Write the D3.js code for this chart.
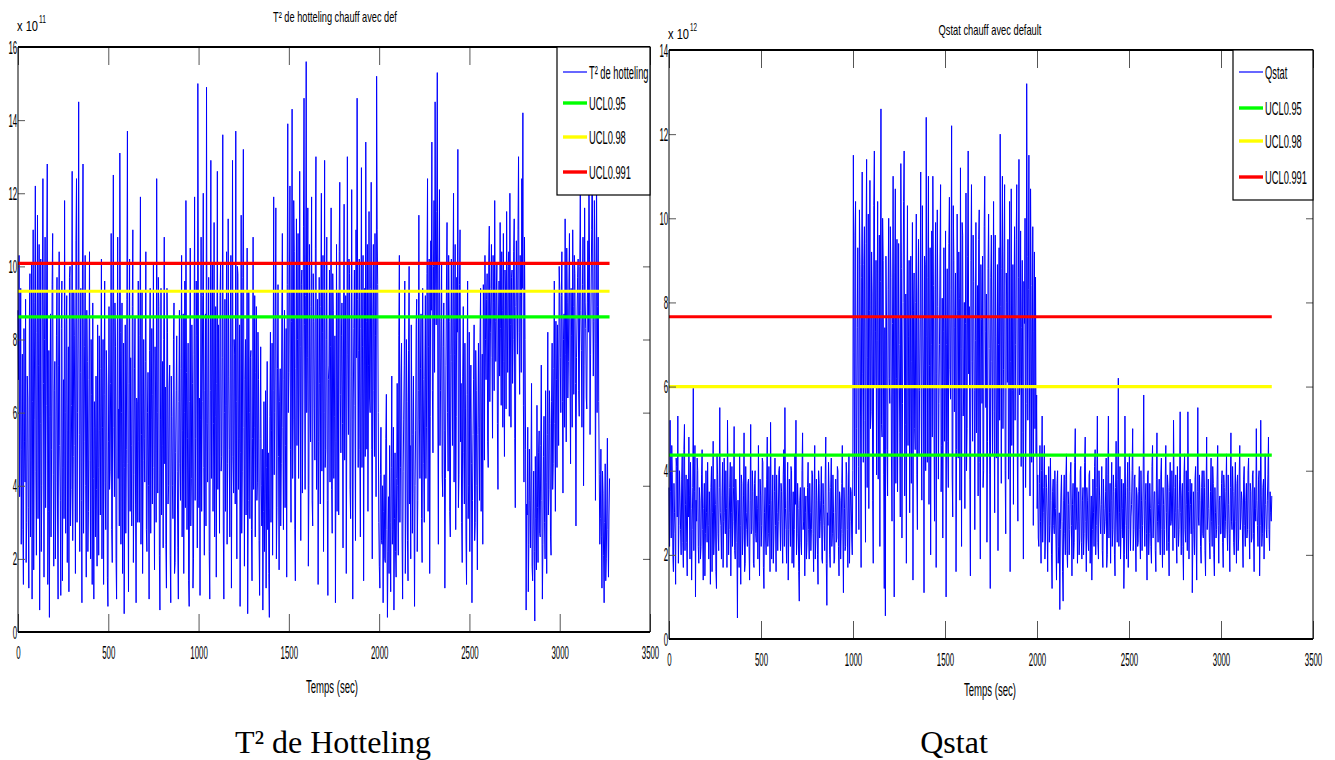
<!DOCTYPE html>
<html>
<head>
<meta charset="utf-8">
<script src="https://cdn.jsdelivr.net/npm/d3@7"></script>
<style>
  html, body { margin: 0; padding: 0; background: #fff; }
  svg { display: block; font-family: "Liberation Sans", Arial, sans-serif; }
</style>
</head>
<body>
<svg id="fig" width="1335" height="760"></svg>
<script>
// ---- data -------------------------------------------------------------
// the statistics are logged every 3 s; each record is split in two
// interleaved arrays: phase A at t = 0, 6, 12, ...  and phase B at t = 3, 9, 15, ...
const sampleStep = 6;

// Hotelling T² statistic, heating process with fault (units of 1e11)
const t2PhaseA = [
  8.8, 10.3, 6.1, 2.4, 7.6, 1.3, 5.2, 9.1, 3.0, 6.4, 1.2, 9.8, 4.7, 0.9, 11.0, 5.8, 12.2, 2.1, 11.4, 7.3, 0.6, 10.2, 4.0, 12.4, 1.5,
  10.8, 6.2, 12.8, 3.3, 0.4, 8.7, 5.0, 10.9, 1.8, 7.4, 4.1, 9.7, 0.9, 10.4, 3.6, 8.3, 1.4, 6.9, 11.8, 2.7, 9.2, 5.5, 1.1, 10.0, 3.9,
  12.6, 4.8, 8.1, 1.6, 12.4, 6.0, 14.5, 2.2, 9.4, 0.8, 12.8, 5.2, 10.3, 1.5, 7.4, 3.3, 10.4, 2.0, 6.5, 9.0, 0.9, 5.6, 7.0, 1.8, 4.5,
  8.1, 3.2, 10.2, 5.6, 1.3, 9.6, 2.8, 6.7, 0.7, 8.9, 4.4, 10.9, 1.9, 12.5, 3.7, 7.8, 0.9, 10.8, 6.1, 13.1, 2.4, 9.0, 4.6, 0.5, 8.4,
  5.0, 13.7, 1.1, 10.2, 7.5, 2.9, 11.0, 4.3, 8.6, 0.8, 6.3, 9.6, 3.0, 11.9, 5.4, 1.6, 8.0, 4.1, 10.4, 2.2, 7.1, 0.9, 9.4, 5.8, 3.5,
  10.1, 1.7, 6.4, 12.4, 3.8, 8.9, 0.6, 9.4, 5.1, 2.3, 10.8, 6.7, 1.2, 8.2, 4.0, 7.3, 0.8, 5.9, 3.1, 9.0, 1.9, 6.6, 4.4, 0.9, 8.8,
  3.6, 10.3, 5.5, 1.6, 9.6, 11.8, 2.8, 7.9, 0.7, 10.5, 4.2, 6.8, 2.0, 11.9, 5.3, 8.1, 15.0, 3.4, 1.0, 10.8, 6.3, 12.0, 2.1, 8.7, 14.9,
  4.1, 9.7, 0.9, 12.9, 7.0, 3.3, 11.2, 5.9, 1.5, 12.6, 8.4, 2.7, 10.1, 4.8, 13.6, 0.9, 9.1, 6.2, 2.4, 11.3, 5.0, 8.6, 1.2, 12.9, 3.8,
  7.6, 13.7, 2.0, 9.8, 5.3, 0.7, 11.4, 4.4, 13.2, 1.8, 8.0, 6.4, 0.5, 9.3, 3.1, 7.7, 1.4, 10.8, 5.6, 2.6, 8.9, 4.1, 6.9, 1.0, 7.8,
  2.9, 0.6, 6.3, 3.8, 1.2, 7.4, 4.9, 0.4, 8.2, 5.5, 2.1, 11.9, 6.0, 11.6, 3.4, 9.5, 1.7, 7.2, 4.6, 10.9, 2.8, 8.8, 5.1, 1.5, 13.9,
  7.1, 12.2, 3.0, 14.3, 5.8, 10.4, 1.4, 11.3, 8.0, 4.2, 12.6, 2.5, 9.9, 6.4, 14.6, 3.9, 15.6, 7.5, 1.8, 10.6, 5.2, 11.9, 2.9, 8.5, 4.7,
  13.0, 6.1, 1.3, 9.7, 3.5, 12.0, 8.2, 2.2, 12.9, 5.0, 10.8, 1.0, 7.3, 4.1, 11.6, 2.7, 8.8, 5.9, 0.8, 10.6, 6.7, 3.2, 12.3, 4.9, 9.0,
  2.3, 11.7, 7.0, 1.6, 13.0, 5.4, 9.8, 3.1, 12.1, 0.9, 8.3, 6.2, 11.0, 14.6, 4.5, 10.2, 2.6, 12.7, 7.8, 1.4, 9.4, 13.4, 5.0, 3.3, 11.5,
  6.0, 12.3, 2.0, 10.6, 4.8, 8.1, 15.2, 9.5, 3.0, 1.2, 5.6, 2.4, 0.8, 4.3, 1.9, 6.5, 0.4, 3.7, 5.1, 1.1, 7.0, 2.8, 0.6, 4.9, 1.5,
  6.8, 2.1, 10.3, 4.5, 7.9, 0.9, 5.8, 9.6, 3.2, 6.3, 1.4, 10.0, 5.1, 8.4, 2.7, 7.0, 0.7, 5.5, 9.1, 3.6, 11.4, 4.2, 8.7, 1.9, 6.9,
  3.0, 9.2, 5.6, 12.4, 7.8, 1.6, 10.7, 13.4, 4.9, 11.8, 14.5, 8.4, 15.3, 2.4, 12.1, 6.6, 10.1, 3.7, 9.0, 1.2, 7.3, 11.2, 4.4, 8.5, 2.6,
  10.2, 5.1, 12.0, 7.6, 2.8, 9.7, 13.2, 4.3, 11.0, 6.8, 1.9, 8.9, 3.5, 6.1, 1.3, 9.6, 4.0, 2.2, 7.3, 0.8, 5.4, 8.4, 3.0, 6.6, 1.7,
  7.9, 3.6, 9.4, 5.8, 2.4, 8.6, 10.3, 6.9, 9.8, 4.5, 11.1, 8.2, 10.6, 5.3, 9.0, 11.8, 7.4, 10.1, 3.9, 9.6, 11.2, 6.2, 8.8, 10.9, 4.8,
  9.3, 11.5, 7.1, 10.4, 12.0, 5.6, 9.9, 8.0, 11.3, 3.4, 10.7, 7.6, 13.0, 6.5, 9.2, 12.4, 14.2, 4.1, 8.0, 0.6, 3.2, 1.1, 5.0, 2.3, 6.8,
  1.4, 4.4, 0.3, 3.1, 6.2, 1.9, 5.5, 2.6, 7.3, 0.9, 4.8, 3.0, 6.6, 1.6, 8.2, 3.9, 5.7, 2.1, 7.9, 4.6, 9.6, 3.3, 6.9, 8.4, 5.1,
  9.4, 6.0, 10.4, 3.8, 8.7, 11.3, 5.2, 9.0, 7.4, 10.9, 4.6, 8.1, 11.0, 6.5, 9.8, 2.9, 8.6, 10.2, 5.9, 12.0, 7.7, 9.5, 4.0, 11.6, 8.3,
  6.1, 10.7, 12.6, 5.4, 9.3, 13.5, 7.0, 11.8, 3.6, 12.9, 8.9, 6.3, 2.4, 5.0, 1.2, 3.8, 0.8, 4.6, 2.0, 5.3, 1.5, 4.2
];
const t2PhaseB = [
  6.9, 3.7, 9.4, 5.0, 2.8, 8.3, 4.1, 1.9, 7.0, 3.4, 8.6, 2.6, 10.1, 6.3, 1.7, 9.0, 4.4, 8.2, 3.1, 10.6, 5.7, 2.2, 9.3, 6.8, 8.0,
  3.4, 9.9, 1.3, 7.7, 5.9, 2.6, 9.5, 4.3, 6.6, 2.0, 8.1, 3.2, 7.3, 5.1, 1.0, 9.6, 4.5, 3.1, 6.0, 8.4, 1.9, 7.8, 9.7, 2.9, 6.2,
  2.5, 9.3, 5.1, 10.7, 3.0, 8.6, 5.4, 7.1, 3.6, 9.9, 2.7, 7.8, 4.0, 8.8, 2.2, 6.9, 4.7, 8.0, 1.3, 4.2, 6.3, 2.6, 3.9, 8.4, 2.1,
  5.5, 7.2, 2.0, 8.0, 6.5, 4.1, 7.7, 1.5, 5.2, 3.9, 6.8, 2.8, 8.6, 5.6, 9.0, 2.0, 6.4, 4.2, 2.9, 8.2, 6.0, 1.6, 7.9, 4.5, 2.7,
  9.1, 4.6, 6.8, 3.3, 5.1, 8.9, 1.9, 7.2, 3.5, 6.4, 3.0, 5.2, 8.1, 2.4, 9.3, 4.7, 5.3, 7.4, 2.8, 6.0, 4.0, 7.7, 2.7, 8.3, 6.5,
  4.5, 7.8, 3.0, 6.0, 9.7, 2.1, 5.8, 3.2, 7.4, 8.0, 4.6, 2.4, 9.4, 3.5, 6.7, 2.1, 7.0, 4.0, 8.0, 1.6, 4.9, 8.1, 2.3, 6.3, 4.6,
  7.2, 2.6, 8.7, 6.0, 3.4, 7.1, 5.3, 1.4, 6.3, 2.9, 8.4, 1.2, 7.6, 3.6, 9.6, 2.3, 8.6, 6.4, 5.8, 3.3, 9.2, 4.5, 6.6, 2.9, 5.7,
  7.3, 2.2, 6.6, 4.2, 10.1, 5.7, 2.6, 8.9, 6.8, 3.9, 6.1, 9.2, 4.4, 7.5, 2.9, 6.0, 3.3, 10.4, 4.6, 7.0, 2.6, 10.3, 6.1, 4.8, 8.0,
  3.5, 6.3, 10.0, 3.9, 8.4, 4.9, 2.7, 9.7, 5.6, 6.9, 3.2, 10.5, 3.6, 6.0, 7.5, 2.8, 5.3, 3.9, 9.2, 7.1, 3.6, 8.2, 2.5, 5.3, 4.0,
  5.0, 3.3, 2.2, 6.6, 4.5, 2.8, 1.6, 5.9, 3.0, 7.9, 6.6, 4.3, 8.7, 2.0, 7.2, 4.8, 6.3, 2.9, 8.6, 5.6, 6.9, 3.4, 8.3, 9.5, 6.0,
  9.6, 5.0, 8.5, 4.2, 11.8, 2.8, 7.2, 5.1, 10.9, 6.7, 7.8, 9.5, 3.8, 11.1, 8.4, 9.2, 6.0, 11.6, 4.0, 6.4, 8.9, 3.6, 9.8, 6.1, 10.5,
  3.9, 9.1, 5.2, 6.8, 8.9, 4.4, 10.3, 6.0, 4.5, 8.0, 3.6, 6.9, 9.9, 7.8, 3.9, 9.8, 4.2, 8.1, 5.2, 3.3, 9.3, 10.4, 6.5, 8.1, 5.7,
  8.6, 4.7, 9.2, 6.1, 7.6, 10.2, 3.9, 7.0, 5.8, 6.4, 9.9, 2.5, 7.5, 9.1, 7.7, 5.0, 8.3, 4.5, 10.3, 6.4, 4.8, 8.5, 10.6, 7.3, 6.4,
  9.4, 5.0, 8.7, 6.6, 10.9, 3.7, 11.0, 6.0, 1.8, 4.3, 2.5, 4.0, 3.3, 2.0, 5.3, 2.8, 2.2, 1.6, 3.0, 4.5, 2.4, 5.6, 3.1, 2.2, 4.2,
  4.0, 8.1, 3.0, 7.0, 2.6, 4.4, 7.3, 1.6, 8.0, 2.5, 7.7, 3.5, 2.0, 6.1, 5.4, 3.8, 4.0, 8.4, 2.2, 6.6, 5.8, 7.2, 3.1, 9.4, 4.6,
  7.0, 4.2, 9.8, 3.3, 10.2, 5.9, 8.8, 6.6, 10.0, 7.1, 9.6, 11.5, 6.1, 9.9, 5.1, 8.5, 4.3, 7.8, 5.5, 4.2, 9.6, 6.0, 10.3, 3.3, 7.6,
  7.4, 9.6, 4.1, 10.6, 5.9, 8.2, 3.4, 9.5, 5.2, 3.0, 7.0, 4.9, 7.9, 2.6, 6.5, 3.1, 8.2, 5.8, 4.6, 3.6, 6.9, 2.5, 7.7, 4.0, 5.4,
  5.6, 8.2, 3.3, 7.6, 9.5, 4.7, 8.0, 9.1, 5.2, 10.1, 6.3, 9.4, 7.5, 10.3, 6.6, 8.5, 9.3, 5.7, 8.6, 7.0, 8.3, 10.4, 5.6, 7.4, 9.9,
  6.1, 8.7, 10.0, 5.9, 8.4, 9.7, 6.8, 10.4, 5.3, 8.9, 9.0, 11.0, 8.2, 10.3, 7.1, 9.4, 6.2, 10.8, 5.0, 3.5, 5.6, 2.4, 3.6, 4.4, 1.8,
  3.2, 2.2, 4.8, 1.7, 3.4, 4.9, 2.7, 5.1, 3.6, 2.4, 5.9, 2.0, 4.1, 5.4, 3.2, 6.6, 2.6, 6.3, 3.9, 7.2, 5.7, 8.5, 4.5, 7.0, 10.0,
  7.5, 9.2, 6.3, 8.0, 5.6, 7.6, 10.5, 6.4, 9.6, 7.0, 9.4, 5.6, 8.9, 10.3, 6.8, 7.5, 9.7, 6.6, 10.0, 8.8, 5.6, 10.8, 7.3, 9.0, 6.4,
  9.0, 8.2, 10.2, 7.6, 11.0, 9.6, 8.5, 10.1, 7.9, 6.0, 10.8, 4.3, 3.1, 2.6, 4.4, 2.1, 3.0, 1.4, 3.5, 2.8, 3.2
];

// Q statistic (SPE), heating process with fault (units of 1e12)
const qPhaseA = [
  3.6, 5.2, 2.4, 3.9, 1.6, 3.0, 1.3, 4.1, 5.3, 2.7, 3.4, 2.0, 4.4, 1.7, 5.1, 3.2, 2.3, 3.8, 4.8, 1.9, 3.1, 2.6, 5.96, 3.5, 1.0,
  2.8, 4.0, 1.8, 3.3, 2.2, 4.5, 1.4, 3.7, 2.5, 3.0, 4.2, 1.9, 2.9, 3.6, 1.6, 4.7, 2.4, 3.2, 1.2, 3.9, 2.1, 5.5, 2.7, 3.4, 1.7,
  4.3, 2.5, 3.1, 5.2, 2.0, 3.6, 1.5, 4.1, 2.8, 5.05, 1.9, 3.3, 0.5, 2.9, 4.4, 1.3, 3.7, 2.4, 4.9, 1.8, 3.0, 2.2, 3.8, 1.4, 5.1,
  2.6, 3.5, 1.7, 4.0, 2.3, 3.1, 4.6, 1.5, 3.4, 2.7, 4.2, 1.2, 3.6, 2.0, 4.8, 2.5, 3.2, 5.15, 1.9, 3.9, 2.4, 4.3, 1.6, 3.0, 2.8,
  4.1, 2.1, 3.5, 1.8, 4.5, 5.5, 2.6, 3.3, 1.4, 3.8, 2.2, 4.0, 2.9, 1.7, 4.4, 5.2, 2.5, 3.1, 0.9, 3.6, 2.0, 4.9, 2.8, 1.5, 3.4,
  2.3, 4.2, 1.9, 3.0, 2.6, 3.9, 1.6, 4.6, 2.4, 3.3, 1.3, 3.7, 2.8, 4.1, 1.8, 3.2, 2.1, 4.8, 0.8, 2.7, 3.5, 1.7, 4.3, 2.5, 3.0,
  1.9, 3.8, 2.4, 4.0, 1.5, 3.3, 2.6, 4.6, 1.1, 3.1, 2.2, 3.9, 1.7, 4.4, 2.8, 3.5, 2.0, 11.5, 3.4, 10.4, 5.0, 9.3, 2.6, 8.9, 1.7,
  11.1, 4.2, 9.8, 2.3, 11.4, 6.7, 3.1, 10.9, 5.4, 8.2, 1.8, 11.6, 7.3, 3.9, 10.4, 6.0, 2.2, 12.6, 4.8, 9.0, 1.2, 0.55, 7.7, 3.4, 10.0,
  5.6, 8.6, 2.8, 11.0, 1.0, 10.7, 6.2, 3.5, 9.4, 4.9, 11.3, 2.4, 8.0, 11.6, 5.1, 1.8, 10.3, 7.2, 3.0, 9.1, 6.6, 1.4, 8.7, 4.5, 10.1,
  2.6, 9.5, 5.9, 11.1, 3.3, 7.8, 1.1, 8.9, 12.4, 4.2, 11.0, 6.5, 2.0, 9.7, 11.0, 5.3, 8.3, 1.7, 10.2, 3.8, 7.0, 10.8, 4.6, 2.4, 9.3,
  6.1, 1.0, 8.8, 3.6, 10.5, 5.7, 12.2, 2.9, 9.0, 7.4, 1.6, 10.1, 4.3, 8.1, 11.2, 2.2, 9.6, 6.0, 3.1, 10.6, 5.0, 11.6, 7.9, 1.5, 10.8,
  4.7, 8.5, 2.6, 9.9, 6.3, 3.4, 10.2, 1.9, 7.6, 9.1, 4.0, 11.0, 5.5, 2.3, 8.8, 6.9, 1.2, 9.6, 4.4, 10.4, 3.0, 7.2, 5.8, 2.1, 9.3,
  12.0, 3.7, 11.0, 6.4, 10.8, 2.5, 8.0, 9.5, 4.8, 1.6, 10.7, 5.9, 3.2, 9.8, 7.0, 10.8, 2.8, 11.4, 6.2, 4.1, 9.0, 1.9, 7.5, 3.6, 13.2,
  5.2, 11.5, 3.4, 8.4, 6.0, 2.7, 9.2, 8.6, 5.8, 3.9, 2.2, 4.6, 1.8, 5.3, 3.0, 4.6, 2.4, 3.6, 1.6, 4.1, 2.7, 3.3, 1.2, 3.8, 2.5,
  3.1, 1.4, 4.0, 2.2, 0.7, 3.4, 2.8, 0.9, 3.9, 2.0, 4.4, 1.7, 3.2, 2.6, 4.2, 1.5, 3.7, 2.3, 5.0, 2.9, 1.8, 3.5, 2.4, 4.1, 1.9,
  3.6, 2.5, 4.8, 1.6, 3.3, 2.1, 4.0, 2.9, 1.4, 3.8, 2.2, 4.5, 2.7, 5.3, 1.9, 3.4, 2.5, 4.1, 1.7, 3.1, 2.8, 4.3, 2.0, 5.3, 3.0,
  1.8, 4.2, 2.6, 3.5, 1.5, 4.7, 2.3, 6.2, 3.0, 1.9, 3.8, 2.4, 1.2, 5.3, 2.7, 3.6, 1.7, 4.4, 2.1, 3.2, 5.0, 2.6, 3.9, 1.6, 3.4,
  2.3, 4.1, 1.9, 3.3, 2.7, 5.8, 2.2, 3.7, 1.4, 4.0, 2.5, 3.1, 1.8, 4.6, 2.9, 3.5, 1.6, 4.9, 2.3, 3.8, 2.0, 4.3, 1.7, 3.2, 2.6,
  4.6, 2.1, 3.6, 1.5, 4.2, 2.8, 3.4, 5.2, 2.4, 3.9, 1.8, 3.1, 2.6, 5.4, 2.0, 3.7, 1.4, 4.4, 2.3, 3.2, 5.4, 1.9, 3.8, 2.5, 1.1,
  3.5, 2.0, 4.1, 1.4, 5.5, 2.7, 3.3, 1.8, 4.0, 2.4, 3.6, 1.5, 4.8, 2.9, 3.1, 1.9, 4.3, 2.2, 3.7, 1.5, 3.0, 2.6, 4.6, 1.8, 3.4,
  2.5, 4.0, 1.7, 3.6, 2.8, 4.4, 2.1, 3.2, 1.6, 4.9, 2.6, 3.5, 2.0, 4.2, 1.8, 3.9, 2.4, 4.6, 2.9, 3.3, 1.7, 4.1, 2.2, 3.7, 2.6,
  4.3, 1.9, 3.5, 2.4, 4.0, 1.6, 3.1, 5.0, 2.7, 3.8, 1.5, 5.2, 2.2, 3.6, 1.9, 4.4, 2.6, 3.3, 4.8, 2.1, 3.0, 3.4
];
const qPhaseB = [
  2.2, 3.5, 4.6, 2.0, 3.7, 2.5, 4.3, 2.9, 1.8, 4.0, 2.6, 3.8, 2.3, 4.5, 2.1, 3.9, 1.5, 2.9, 3.4, 4.2, 1.4, 3.6, 2.1, 4.6, 3.3,
  4.3, 2.2, 3.6, 1.9, 3.9, 2.6, 3.1, 1.5, 4.0, 2.3, 2.7, 3.5, 1.3, 4.1, 3.0, 2.0, 3.8, 1.6, 4.4, 2.5, 3.6, 3.0, 1.9, 4.2, 2.8,
  3.0, 4.0, 1.7, 3.4, 2.6, 4.2, 3.0, 2.2, 3.6, 2.1, 3.8, 2.3, 3.3, 1.7, 2.7, 3.9, 2.0, 3.4, 1.6, 4.1, 2.6, 3.7, 2.2, 3.3, 2.5,
  4.0, 1.8, 3.7, 2.5, 3.4, 1.9, 2.8, 3.8, 2.2, 4.3, 1.7, 3.0, 2.4, 3.8, 2.2, 4.1, 1.6, 3.3, 2.9, 1.8, 3.5, 2.7, 3.9, 2.1, 4.0,
  2.9, 3.7, 2.4, 3.9, 2.2, 3.1, 1.8, 4.2, 2.6, 3.0, 4.1, 1.8, 3.5, 2.6, 3.2, 2.0, 3.7, 1.6, 3.3, 2.3, 4.0, 2.6, 3.6, 3.0, 1.9,
  3.6, 2.6, 3.7, 2.1, 4.0, 2.5, 3.4, 1.9, 3.8, 2.0, 4.0, 2.4, 3.3, 1.9, 3.7, 2.7, 3.8, 1.8, 3.0, 4.2, 2.0, 3.6, 2.2, 3.9, 1.8,
  3.0, 2.3, 4.1, 2.2, 3.5, 1.9, 3.7, 2.5, 3.6, 2.1, 4.2, 2.6, 3.4, 1.8, 3.6, 2.4, 4.0, 6.8, 9.6, 2.5, 7.4, 4.1, 10.2, 5.3, 8.6,
  6.3, 8.9, 5.2, 9.4, 3.6, 10.1, 7.8, 5.0, 9.2, 3.3, 10.3, 6.0, 9.0, 7.1, 3.8, 9.6, 8.5, 5.1, 10.0, 3.9, 7.4, 9.1, 4.5, 8.3, 6.2,
  9.8, 4.3, 7.5, 5.8, 8.7, 3.7, 9.5, 6.0, 7.0, 2.9, 8.8, 5.6, 10.4, 3.4, 8.2, 7.6, 4.6, 9.0, 6.0, 3.7, 9.9, 7.8, 5.0, 8.0, 3.9,
  8.2, 4.4, 7.6, 5.3, 10.3, 6.0, 9.1, 4.0, 7.2, 8.6, 3.2, 9.3, 7.0, 4.8, 8.4, 2.8, 9.9, 6.3, 7.9, 5.6, 9.2, 3.5, 8.1, 7.3, 4.7,
  9.7, 7.0, 4.7, 9.4, 6.4, 8.3, 3.9, 10.3, 5.4, 8.7, 4.5, 7.8, 9.2, 3.3, 6.9, 9.9, 5.3, 8.0, 7.5, 4.0, 9.1, 6.3, 3.8, 9.0, 6.6,
  9.6, 5.9, 7.1, 4.9, 8.4, 9.5, 4.2, 8.9, 5.6, 3.6, 9.8, 7.3, 8.2, 4.7, 10.1, 3.9, 8.6, 6.6, 7.7, 5.4, 9.6, 4.3, 8.9, 7.0, 5.2,
  7.9, 8.8, 5.0, 9.2, 4.0, 8.7, 6.1, 3.8, 10.4, 6.6, 4.6, 8.9, 7.8, 5.2, 9.5, 4.4, 8.6, 5.8, 9.7, 7.4, 4.9, 8.5, 10.0, 5.6, 9.1,
  8.3, 6.0, 10.7, 4.2, 9.8, 7.3, 5.0, 4.4, 3.1, 2.4, 3.7, 2.8, 4.0, 2.3, 3.6, 1.9, 3.9, 2.9, 3.4, 2.3, 4.3, 2.0, 3.5, 2.7, 4.0,
  2.4, 3.7, 1.8, 3.0, 2.6, 3.9, 1.6, 3.3, 2.5, 3.8, 2.1, 3.5, 2.0, 3.9, 2.7, 3.2, 1.9, 4.2, 2.6, 3.6, 2.8, 2.0, 4.0, 2.3, 3.3,
  2.0, 4.2, 2.8, 3.6, 2.4, 3.9, 1.8, 3.4, 2.6, 3.0, 4.1, 2.0, 3.6, 2.3, 4.0, 2.9, 3.2, 2.1, 3.8, 2.5, 3.5, 1.7, 3.9, 2.4, 3.7,
  3.3, 2.2, 3.9, 2.0, 3.6, 2.9, 3.8, 2.2, 4.1, 2.6, 3.1, 3.7, 2.0, 3.4, 1.9, 4.2, 2.6, 3.5, 2.9, 4.0, 2.1, 3.8, 2.4, 3.6, 2.2,
  3.5, 2.6, 4.0, 2.1, 3.8, 2.9, 3.3, 2.5, 3.9, 2.0, 3.7, 2.2, 4.1, 2.4, 3.5, 2.1, 3.8, 2.8, 3.2, 2.4, 3.9, 2.6, 3.6, 2.0, 3.8,
  3.0, 3.9, 2.3, 3.5, 2.7, 4.0, 2.1, 3.6, 3.0, 2.4, 4.1, 2.2, 3.8, 3.0, 3.4, 2.2, 3.9, 2.6, 4.0, 2.1, 3.5, 2.9, 3.2, 3.7, 2.4,
  2.6, 3.8, 2.4, 3.5, 2.9, 3.9, 2.2, 3.6, 2.5, 4.0, 2.1, 3.4, 2.6, 3.8, 2.3, 3.5, 2.8, 4.1, 2.0, 3.6, 2.4, 3.8, 2.7, 3.3, 2.5,
  3.7, 2.3, 3.9, 2.4, 3.5, 2.6, 3.9, 2.5, 3.6, 2.8, 4.1, 2.3, 3.4, 2.8, 3.7, 2.1, 3.9, 2.6, 3.5, 2.4, 3.8, 2.7, 3.3, 2.4, 4.0,
  2.6, 3.7, 2.3, 3.9, 2.5, 3.6, 2.8, 3.3, 2.2, 4.0, 2.7, 3.4, 2.5, 3.8, 2.9, 3.2, 2.4, 3.9, 2.6, 3.5, 2.8
];

// upper control limits at three confidence levels
const limitNames = ["UCL0.95", "UCL0.98", "UCL0.991"];
const t2Limits = [8.62, 9.32, 10.08];
const qLimits = [4.37, 6.00, 7.66];

// axis ticks
const timeTicks = [0, 500, 1000, 1500, 2000, 2500, 3000, 3500];
const t2Ticks = [0, 2, 4, 6, 8, 10, 12, 14, 16];
const qTicks = [0, 2, 4, 6, 8, 10, 12, 14];

// ---- drawing ----------------------------------------------------------
const svg = d3.select("#fig");
const limitColors = ["#00ff00", "#ffff00", "#ff0000"];
const SANS = "'Liberation Sans', Arial, sans-serif";
const SERIF = "'Liberation Serif', 'Times New Roman', serif";

function measure(str, size) {
  const t = svg.append("text").attr("font-size", size).attr("font-family", SANS).text(str);
  const w = t.node().getComputedTextLength();
  t.remove();
  return w;
}

// text squeezed horizontally to a given width (narrow plot lettering)
function fitText(parent, str, x, y, size, width, anchor) {
  const t = parent.append("text")
    .attr("font-size", size)
    .attr("font-family", SANS)
    .attr("text-anchor", anchor || "start")
    .attr("fill", "#000")
    .text(str);
  const s = width / t.node().getComputedTextLength();
  t.attr("transform", `translate(${x},${y}) scale(${s},1)`);
  return t;
}

function condensed(parent, str, x, y, size, sx, anchor) {
  return parent.append("text")
    .attr("font-size", size)
    .attr("font-family", SANS)
    .attr("text-anchor", anchor || "start")
    .attr("fill", "#000")
    .attr("transform", `translate(${x},${y}) scale(${sx},1)`)
    .text(str);
}

const tickFont = 19;
const tickScale = 17.5 / measure("1000", tickFont);
const legendFont = 18.5;
const legendScale = 42 / measure("UCL0.991", legendFont);

// merge the two interleaved phases into one time-ordered record
function record(phaseA, phaseB) {
  const out = [];
  phaseA.forEach((v, i) => {
    out.push({ t: i * sampleStep, v });
    if (i < phaseB.length) out.push({ t: i * sampleStep + sampleStep / 2, v: phaseB[i] });
  });
  return out;
}

function drawPanel(p) {
  const g = svg.append("g");
  const x = d3.scaleLinear().domain([0, 3500]).range([p.left, p.right]);
  const y = d3.scaleLinear().domain([0, p.yTicks[p.yTicks.length - 1]]).range([p.bottom, p.top]);

  const series = record(p.phaseA, p.phaseB);
  const tEnd = series[series.length - 1].t;

  const line = d3.line().x(d => x(d.t)).y(d => y(d.v));

  // statistic trace
  g.append("path")
    .datum(series)
    .attr("d", line)
    .attr("fill", "none")
    .attr("stroke", "#0000ff")
    .attr("stroke-width", 1);

  // control limits
  p.limits.forEach((L, k) => {
    g.append("path")
      .datum([{ t: 0, v: L }, { t: tEnd, v: L }])
      .attr("d", line)
      .attr("fill", "none")
      .attr("stroke", limitColors[k])
      .attr("stroke-width", 3.2);
  });

  // ticks on all four sides, pointing inward
  const styleTicks = sel => {
    sel.select(".domain").remove();
    sel.selectAll(".tick line").attr("stroke", "#555").attr("stroke-width", 1);
  };
  const plain = d3.format("d");

  const bottomAxis = g.append("g")
    .attr("transform", `translate(0,${p.bottom})`)
    .call(d3.axisBottom(x).tickValues(timeTicks).tickFormat(plain).tickSize(-18).tickSizeOuter(0).tickPadding(0))
    .call(styleTicks);
  bottomAxis.selectAll(".tick text")
    .attr("font-size", tickFont).attr("font-family", SANS).attr("fill", "#000")
    .attr("dy", null).attr("y", p.xLabelOffset)
    .attr("transform", `scale(${tickScale},1)`);

  g.append("g")
    .attr("transform", `translate(0,${p.top})`)
    .call(d3.axisTop(x).tickValues(timeTicks).tickSize(-18).tickSizeOuter(0).tickFormat(""))
    .call(styleTicks);

  const leftAxis = g.append("g")
    .attr("transform", `translate(${p.left},0)`)
    .call(d3.axisLeft(y).tickValues(p.yTicks).tickFormat(plain).tickSize(-7).tickSizeOuter(0).tickPadding(2))
    .call(styleTicks);
  leftAxis.selectAll(".tick text")
    .attr("font-size", tickFont).attr("font-family", SANS).attr("fill", "#000")
    .attr("transform", `scale(${tickScale},1)`);

  g.append("g")
    .attr("transform", `translate(${p.right},0)`)
    .call(d3.axisRight(y).tickValues(p.yTicks).tickSize(-7).tickSizeOuter(0).tickFormat(""))
    .call(styleTicks);

  // frame
  g.append("line").attr("x1", p.left).attr("x2", p.right).attr("y1", p.top).attr("y2", p.top)
    .attr("stroke", "#000").attr("stroke-width", 2);
  g.append("line").attr("x1", p.left).attr("x2", p.right).attr("y1", p.bottom).attr("y2", p.bottom)
    .attr("stroke", "#000").attr("stroke-width", 2.2);
  g.append("line").attr("x1", p.left).attr("x2", p.left).attr("y1", p.top).attr("y2", p.bottom)
    .attr("stroke", "#000").attr("stroke-width", 1);
  g.append("line").attr("x1", p.right).attr("x2", p.right).attr("y1", p.top).attr("y2", p.bottom)
    .attr("stroke", "#000").attr("stroke-width", 1);

  // titles and labels
  fitText(g, p.title, p.titleX, p.titleY, 14, p.titleW, "middle");
  fitText(g, "x 10", p.left - 1, p.expY, 14, 21, "start");
  fitText(g, p.expPower, p.left + 21, p.expY - 8, 10, 7, "start");
  fitText(g, "Temps (sec)", p.xLabelX, p.xLabelY, 18, 52, "middle");

  // legend
  const lg = g.append("g");
  lg.append("rect")
    .attr("x", p.legX).attr("y", p.top).attr("width", p.right - p.legX).attr("height", p.legBottom - p.top)
    .attr("fill", "#fff").attr("stroke", "#000").attr("stroke-width", 1.2);
  const entries = [{ name: p.seriesName, color: "#0000ff", width: 1.2 }]
    .concat(limitNames.map((n, k) => ({ name: n, color: limitColors[k], width: 3.4 })));
  entries.forEach((e, k) => {
    const yy = p.legRows[k];
    lg.append("line")
      .attr("x1", p.legX + 6).attr("x2", p.legX + 30).attr("y1", yy).attr("y2", yy)
      .attr("stroke", e.color).attr("stroke-width", e.width);
    condensed(lg, e.name, p.legX + 32, yy + 6.5, legendFont, legendScale, "start");
  });

  // caption under the panel
  svg.append("text")
    .attr("x", p.captionX).attr("y", 753)
    .attr("font-family", SERIF).attr("font-size", 32)
    .attr("text-anchor", "middle").attr("fill", "#000")
    .text(p.caption);
}

drawPanel({
  phaseA: t2PhaseA, phaseB: t2PhaseB, limits: t2Limits, yTicks: t2Ticks,
  left: 18, right: 650, top: 47, bottom: 632,
  xLabelOffset: 27,
  title: "T² de hotteling chauff avec def", titleX: 335, titleY: 22, titleW: 124,
  expY: 31, expPower: "11",
  xLabelX: 332, xLabelY: 693,
  seriesName: "T² de hotteling",
  legX: 557, legBottom: 195, legRows: [72, 103, 137, 172],
  caption: "T² de Hotteling", captionX: 333
});

drawPanel({
  phaseA: qPhaseA, phaseB: qPhaseB, limits: qLimits, yTicks: qTicks,
  left: 669, right: 1313, top: 50, bottom: 639,
  xLabelOffset: 27,
  title: "Qstat chauff avec default", titleX: 990, titleY: 35, titleW: 103,
  expY: 39, expPower: "12",
  xLabelX: 990, xLabelY: 696,
  seriesName: "Qstat",
  legX: 1233, legBottom: 200, legRows: [72, 108, 141, 177],
  caption: "Qstat", captionX: 954
});
</script>
</body>
</html>
